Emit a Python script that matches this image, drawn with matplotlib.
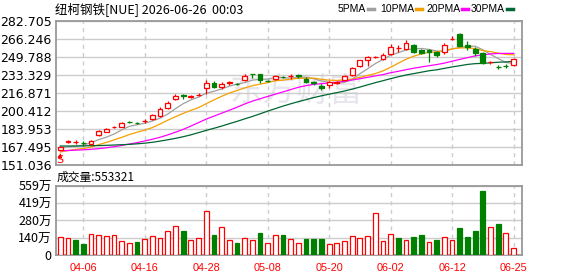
import matplotlib
matplotlib.use('Agg')
import matplotlib.pyplot as plt
from matplotlib.lines import Line2D

plt.rcParams['font.family'] = ['DejaVu Sans', 'Noto Sans CJK SC']

# trading days shown in the chart
dates = ["03-31", "04-01", "04-02", "04-06", "04-07", "04-08", "04-09", "04-10",
         "04-13", "04-14", "04-15", "04-16", "04-17", "04-20", "04-21", "04-22",
         "04-23", "04-24", "04-27", "04-28", "04-29", "04-30", "05-01", "05-04",
         "05-05", "05-06", "05-07", "05-08", "05-11", "05-12", "05-13", "05-14",
         "05-15", "05-18", "05-19", "05-20", "05-21", "05-22", "05-26", "05-27",
         "05-28", "05-29", "06-01", "06-02", "06-03", "06-04", "06-05", "06-08",
         "06-09", "06-10", "06-11", "06-12", "06-15", "06-16", "06-17", "06-18",
         "06-22", "06-23", "06-24", "06-25"]
shown_dates = ["04-06", "04-16", "04-28", "05-08", "05-20", "06-02", "06-12", "06-25"]

opens = [165.0, 172.0, 171.9, 171.2, 170.3, 178.5, 181.5, 185.7, 186.2, 190.3,
         189.6, 191.0, 193.0, 195.4, 203.0, 211.6, 214.6, 213.6, 214.8, 221.3,
         226.3, 222.6, 226.0, 225.4, 228.6, 234.6, 234.2, 228.1, 229.4, 231.5,
         232.3, 232.9, 229.3, 226.6, 223.7, 224.2, 226.2, 228.8, 233.5, 242.0,
         247.0, 249.6, 248.2, 252.5, 257.7, 256.8, 260.6, 256.2, 256.6, 254.1,
         254.3, 265.9, 270.8, 261.2, 257.5, 253.4, 244.8, 240.7, 241.9, 242.2]
highs = [168.5, 173.8, 173.5, 173.0, 173.6, 182.6, 185.0, 187.0, 190.2, 191.3,
         190.3, 193.0, 197.5, 204.0, 209.5, 215.5, 215.6, 215.2, 216.5, 228.5,
         227.5, 226.5, 228.1, 226.3, 234.4, 234.7, 234.4, 229.0, 233.3, 232.3,
         234.7, 234.2, 231.2, 228.0, 225.0, 227.5, 227.6, 233.0, 241.0, 247.5,
         250.5, 251.0, 253.5, 261.3, 260.7, 265.2, 261.8, 256.8, 257.3, 255.3,
         262.8, 268.8, 272.0, 264.2, 259.0, 254.5, 246.2, 242.5, 243.3, 248.6]
lows = [164.6, 170.8, 170.6, 168.6, 169.8, 177.8, 181.2, 184.8, 185.8, 189.2,
        188.2, 189.8, 192.0, 194.8, 202.5, 210.3, 211.0, 212.5, 213.8, 215.5,
        221.0, 220.8, 224.3, 224.0, 228.0, 230.3, 226.3, 226.8, 228.8, 230.2,
        229.8, 230.5, 226.3, 224.5, 219.7, 221.3, 225.2, 228.2, 232.5, 241.0,
        242.0, 249.0, 247.3, 251.8, 254.5, 256.3, 253.5, 252.5, 245.3, 250.2,
        252.8, 264.9, 259.4, 256.5, 251.0, 243.2, 243.8, 238.6, 240.1, 241.5]
closes = [167.8, 172.6, 172.3, 170.8, 173.0, 182.2, 184.4, 186.1, 189.6, 189.9,
          189.1, 191.5, 196.6, 202.6, 208.0, 214.4, 213.8, 214.1, 215.3, 226.0,
          222.6, 225.0, 226.5, 225.0, 232.3, 234.3, 228.8, 227.6, 232.4, 231.1,
          232.8, 232.5, 227.0, 226.1, 221.2, 226.8, 226.6, 232.2, 240.0, 246.8,
          249.6, 250.1, 251.5, 259.0, 258.2, 262.7, 254.8, 253.5, 254.3, 251.3,
          260.5, 266.4, 260.0, 258.8, 253.0, 244.0, 245.3, 240.3, 241.5, 247.8]

ma5 = [166.8, 167.6, 168.2, 169.2, 171.4, 174.2, 176.5, 179.3, 183.1, 186.4,
       187.8, 189.2, 191.3, 193.9, 197.6, 202.6, 207.1, 210.6, 213.1, 216.7,
       218.4, 220.6, 223.1, 225.0, 226.3, 228.6, 229.4, 229.6, 231.1, 230.8,
       230.5, 231.3, 231.2, 229.9, 227.9, 226.7, 225.5, 226.6, 229.4, 234.5,
       239.0, 243.7, 247.6, 251.4, 253.7, 256.3, 257.2, 257.6, 256.7, 255.3,
       254.9, 257.2, 258.5, 259.4, 259.7, 256.4, 252.2, 248.3, 244.8, 243.8]
ma10 = [162.9, 164.2, 165.3, 166.0, 167.4, 169.6, 171.7, 174.0, 176.3, 178.9,
        181.0, 182.9, 185.3, 188.5, 192.0, 195.2, 198.2, 201.0, 203.5, 207.1,
        210.5, 213.8, 216.8, 219.1, 221.5, 223.5, 225.0, 226.3, 228.1, 228.6,
        229.6, 230.3, 230.4, 230.5, 229.4, 228.6, 228.4, 228.9, 229.6, 231.2,
        232.9, 234.6, 237.1, 240.4, 244.1, 247.7, 250.5, 252.6, 254.1, 254.5,
        255.6, 257.2, 258.1, 258.1, 257.5, 255.7, 254.7, 253.4, 252.1, 251.8]
ma20 = [164.1, 164.3, 164.6, 164.9, 165.4, 166.0, 166.8, 167.8, 168.9, 170.2,
        171.5, 173.0, 174.6, 176.4, 178.6, 181.0, 183.6, 186.6, 189.8, 193.0,
        195.7, 198.4, 201.1, 203.8, 206.8, 209.4, 211.6, 213.7, 215.8, 217.9,
        220.0, 222.1, 223.6, 224.8, 225.4, 226.1, 226.7, 227.6, 228.8, 229.9,
        231.2, 232.5, 233.7, 235.4, 236.7, 238.2, 239.5, 240.7, 241.8, 242.9,
        244.2, 245.9, 247.6, 249.2, 250.8, 251.7, 252.6, 253.0, 253.1, 253.1]
ma30 = [168.4, 168.4, 168.4, 168.5, 168.7, 168.8, 169.0, 169.3, 169.6, 169.9,
        170.4, 171.0, 171.8, 172.9, 174.1, 175.4, 176.9, 178.6, 180.6, 182.7,
        184.6, 186.6, 188.8, 190.9, 193.2, 195.4, 197.8, 200.3, 202.6, 204.9,
        207.0, 209.0, 210.8, 212.7, 214.3, 215.8, 217.2, 218.7, 220.4, 222.3,
        224.3, 226.3, 228.1, 230.0, 231.7, 233.3, 234.6, 235.9, 237.2, 238.1,
        239.4, 240.7, 241.8, 243.0, 243.7, 244.0, 244.5, 245.0, 245.3, 245.8]

# volume in 万 shares, and whether the bar is drawn red (1) or green (0)
volume = [143, 138, 122, 89, 167, 160, 151, 160, 111, 95,
          105, 127, 151, 135, 192, 232, 194, 122, 135, 354,
          162, 224, 119, 97, 135, 122, 178, 97, 160, 162,
          127, 97, 130, 130, 130, 89, 97, 111, 151, 138,
          151, 338, 111, 167, 135, 119, 143, 162, 103, 122,
          143, 119, 216, 143, 192, 518, 224, 251, 176, 55]
vol_up = [1, 1, 0, 0, 1, 1, 1, 1, 1, 1,
          0, 1, 1, 1, 1, 1, 0, 1, 1, 1,
          0, 1, 1, 0, 1, 1, 0, 1, 1, 0,
          1, 1, 0, 0, 0, 1, 1, 1, 1, 1,
          1, 1, 1, 1, 0, 1, 0, 0, 1, 0,
          1, 1, 0, 0, 0, 0, 1, 0, 1, 1]
last_volume = 553321

price_ticks = [151.036, 167.495, 183.953, 200.412, 216.871, 233.329, 249.788, 266.246, 282.705]
vol_ticks = [0, 140, 280, 419, 559]
vol_labels = ["0", "140万", "280万", "419万", "559万"]

RED = '#ff0000'
GREEN = '#008000'
GRID = '#cccccc'
BORDER = '#999999'

W, H = 578, 276
fig = plt.figure(figsize=(W / 100, H / 100), dpi=100)
ax = fig.add_axes([56 / W, (H - 165) / H, 466 / W, 144 / H])
axv = fig.add_axes([56 / W, (H - 255) / H, 466 / W, 69 / H])

x = list(range(len(dates)))
tick_pos = [dates.index(d) for d in shown_dates]

for a in (ax, axv):
    a.set_xlim(-0.55, 60.1)
    a.set_xticks(tick_pos)
    a.grid(True, axis='y', color=GRID, lw=1.0, zorder=0)
    a.grid(True, axis='x', color=GRID, lw=1.0, ls=(0, (3, 3)), zorder=0)
    a.tick_params(length=0, pad=3)
    for s in a.spines.values():
        s.set_color(BORDER)
        s.set_linewidth(1.3)
    a.set_axisbelow(True)

# watermark
ax.text(0.515, 0.51, "东方财富", transform=ax.transAxes, fontsize=24,
        color='#e6e6ec', ha='center', va='center', zorder=0.5,
        family=['Noto Sans CJK SC'])

# price panel
ax.set_ylim(price_ticks[0], price_ticks[-1])
ax.set_yticks(price_ticks)
ax.set_yticklabels(["%.3f" % t for t in price_ticks], fontsize=9)
ax.set_xticklabels([])

ax.plot(x, ma5, color='#a0a0a0', lw=0.9, zorder=2)
ax.plot(x, ma10, color='#f5a000', lw=0.9, zorder=2)
ax.plot(x, ma20, color='#ff00ff', lw=0.9, zorder=2)
ax.plot(x, ma30, color='#006633', lw=0.9, zorder=2)

bw = 0.62
for i in x:
    o, h, l, c = opens[i], highs[i], lows[i], closes[i]
    up = c >= o
    col = RED if up else GREEN
    ax.vlines(i, l, h, color=col, lw=0.9, zorder=3)
    ax.bar(i, abs(c - o), bottom=min(o, c), width=bw,
           facecolor='white' if up else col, edgecolor=col, lw=0.9, zorder=4)

# buy marker under the first candle
ax.annotate("", xy=(0, 164.0), xytext=(0, 158.5),
            arrowprops=dict(arrowstyle='-|>', color=RED, lw=0.8,
                            mutation_scale=5), zorder=5)
ax.text(0, 155.2, "S", color=RED, fontsize=8, ha='center', va='center', zorder=5)

# volume panel
axv.set_ylim(0, 559)
axv.set_yticks(vol_ticks)
axv.set_yticklabels(vol_labels, fontsize=9, family=['Noto Sans CJK SC'])
axv.set_xticklabels(shown_dates, fontsize=7.8, color=RED, family=['Liberation Sans'])
axv.tick_params(axis='x', pad=5.5)
for i in x:
    col = RED if vol_up[i] else GREEN
    axv.bar(i, volume[i], width=bw, facecolor='white' if vol_up[i] else col,
            edgecolor=col, lw=0.9, zorder=3)

# title and labels
fig.text(55 / W, 1 - 9 / H, "纽柯钢铁[NUE] 2026-06-26  00:03", fontsize=9,
         ha='left', va='center', family=['Noto Sans CJK SC', 'DejaVu Sans'])
fig.text(57 / W, 1 - 177 / H, "成交量:%d" % last_volume, fontsize=8.5,
         ha='left', va='center', family=['Noto Sans CJK SC', 'DejaVu Sans'])

# legend at the top right
legend_items = [("5PMA", '#a0a0a0', 338), ("10PMA", '#f5a000', 380),
                ("20PMA", '#ff00ff', 426), ("30PMA", '#006633', 471)]
for label, col, px in legend_items:
    t = fig.text(px / W, 1 - 9 / H, label, fontsize=7.5, ha='left', va='center',
                 family=['Liberation Sans'])
    fig.canvas.draw()
    bb = t.get_window_extent()
    x0 = bb.x1 + 2
    fig.add_artist(Line2D([x0 / W, (x0 + 6) / W], [1 - 9 / H, 1 - 9 / H],
                          color=col, lw=2.5, transform=fig.transFigure))

fig.savefig("out.png", dpi=100)
